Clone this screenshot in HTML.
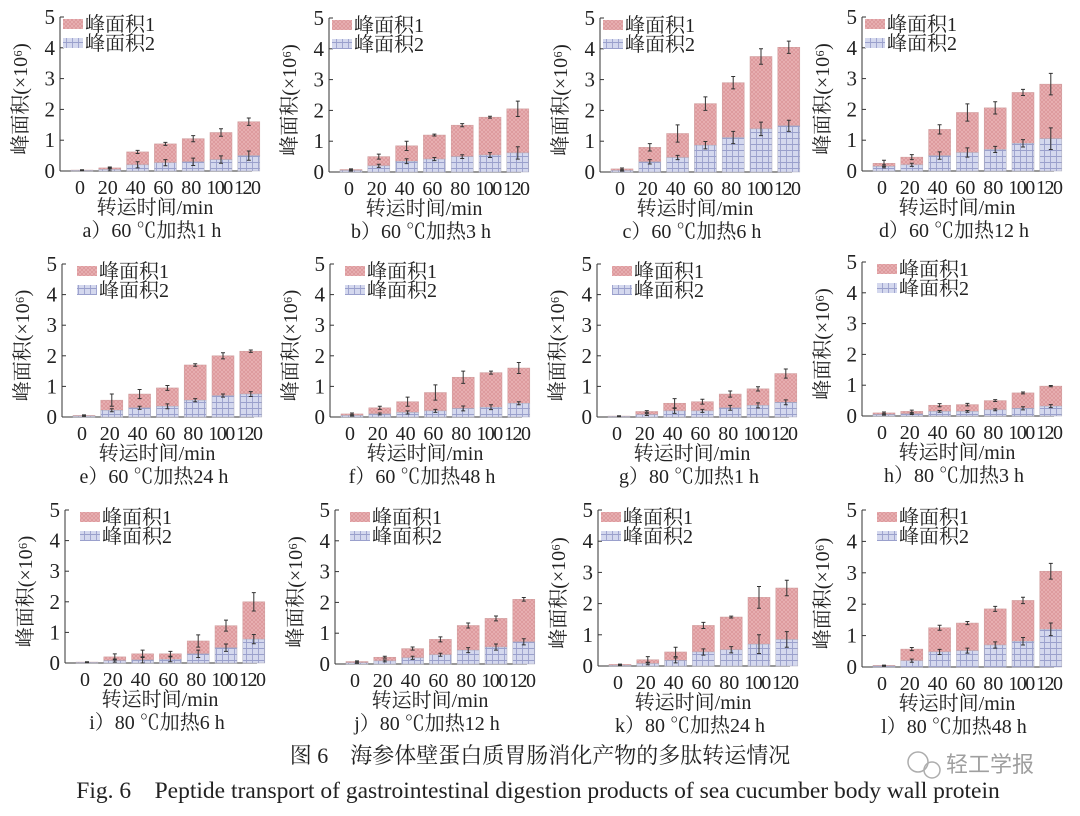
<!DOCTYPE html>
<html><head><meta charset="utf-8">
<style>
body{margin:0;background:#fff;}
svg text{font-family:"Liberation Serif","Noto Serif CJK SC","Noto Sans CJK SC",serif;fill:#222;}
</style></head>
<body>
<svg id="fig" width="1080" height="811" viewBox="0 0 1080 811" xmlns="http://www.w3.org/2000/svg">
<defs>
<pattern id="pinkPat" width="4" height="4" patternUnits="userSpaceOnUse">
<rect width="4" height="4" fill="#e8b0b2"/>
<path d="M0 4L4 0M0 0L4 4" stroke="#d88f93" stroke-width="0.6"/>
</pattern>
<pattern id="bluePat" width="6" height="6" patternUnits="userSpaceOnUse">
<rect width="6" height="6" fill="#d4d8ee"/>
<path d="M0 0.5H6M0.5 0V6" stroke="#9aa0cc" stroke-width="0.9"/>
</pattern>
</defs>
<g id="panels"></g>
<text x="540" y="763" text-anchor="middle" font-size="22">图 6　海参体壁蛋白质胃肠消化产物的多肽转运情况</text>
<text x="538" y="798" text-anchor="middle" font-size="23.5">Fig. 6　Peptide transport of gastrointestinal digestion products of sea cucumber body wall protein</text>
<g opacity="0.8">
<circle cx="918" cy="762" r="10" fill="none" stroke="#999" stroke-width="1.5"/>
<circle cx="932" cy="770" r="8" fill="none" stroke="#999" stroke-width="1.5"/>
<text x="946" y="772" font-size="22" style="fill:#888;font-family:'Noto Sans CJK SC',sans-serif">轻工学报</text>
</g>
</svg>
<script>
const categories = ["0","20","40","60","80","100","120"];
const yTicks = [0,1,2,3,4,5];
const captions = ["a）60 ℃加热1 h","b）60 ℃加热3 h","c）60 ℃加热6 h","d）60 ℃加热12 h","e）60 ℃加热24 h","f）60 ℃加热48 h","g）80 ℃加热1 h","h）80 ℃加热3 h","i）80 ℃加热6 h","j）80 ℃加热12 h","k）80 ℃加热24 h","l）80 ℃加热48 h"];
const totals = [
[0.03,0.1,0.62,0.88,1.05,1.25,1.6],
[0.08,0.5,0.85,1.2,1.52,1.78,2.05],
[0.1,0.8,1.25,2.22,2.9,3.75,4.05],
[0.25,0.45,1.35,1.9,2.05,2.55,2.82],
[0.05,0.55,0.75,0.95,1.7,2.0,2.15],
[0.1,0.3,0.5,0.8,1.3,1.45,1.6],
[0.03,0.18,0.45,0.5,0.75,0.92,1.42],
[0.1,0.15,0.35,0.37,0.5,0.75,0.97],
[0.03,0.2,0.3,0.3,0.72,1.22,2.0],
[0.08,0.22,0.5,0.8,1.25,1.48,2.1],
[0.05,0.2,0.45,1.3,1.57,2.2,2.5],
[0.05,0.57,1.25,1.4,1.85,2.12,3.05]];
const area2 = [
[0.02,0.05,0.2,0.27,0.3,0.37,0.5],
[0.05,0.2,0.35,0.42,0.5,0.55,0.62],
[0.05,0.33,0.47,0.87,1.12,1.4,1.5],
[0.15,0.2,0.5,0.6,0.7,0.9,1.05],
[0.03,0.22,0.3,0.35,0.55,0.7,0.75],
[0.05,0.1,0.15,0.2,0.28,0.32,0.45],
[0.02,0.08,0.2,0.2,0.3,0.38,0.48],
[0.05,0.07,0.15,0.15,0.2,0.25,0.32],
[0.02,0.08,0.1,0.12,0.3,0.5,0.78],
[0.04,0.1,0.2,0.3,0.45,0.55,0.72],
[0.02,0.08,0.18,0.45,0.52,0.7,0.85],
[0.03,0.2,0.48,0.52,0.7,0.82,1.2]];
const errTotal = [
[0.01,0.03,0.05,0.05,0.1,0.12,0.12],
[0.02,0.08,0.15,0.03,0.05,0.03,0.25],
[0.03,0.12,0.28,0.22,0.2,0.25,0.2],
[0.1,0.08,0.15,0.28,0.2,0.1,0.35],
[0.02,0.2,0.15,0.08,0.04,0.1,0.04],
[0.03,0.05,0.15,0.25,0.2,0.05,0.18],
[0.01,0.03,0.15,0.08,0.1,0.07,0.15],
[0.03,0.04,0.05,0.04,0.03,0.03,0.02],
[0.01,0.1,0.12,0.08,0.2,0.18,0.3],
[0.02,0.03,0.05,0.08,0.08,0.08,0.06],
[0.01,0.1,0.15,0.1,0.03,0.35,0.25],
[0.01,0.05,0.08,0.05,0.08,0.1,0.25]];
const errArea2 = [
[0.01,0.05,0.1,0.1,0.12,0.12,0.15],
[0.02,0.05,0.08,0.05,0.06,0.08,0.2],
[0.02,0.07,0.07,0.12,0.2,0.22,0.18],
[0.05,0.05,0.12,0.15,0.1,0.12,0.35],
[0.01,0.05,0.05,0.08,0.05,0.05,0.08],
[0.02,0.03,0.05,0.05,0.08,0.08,0.05],
[0.01,0.03,0.08,0.05,0.08,0.08,0.08],
[0.02,0.02,0.03,0.03,0.03,0.05,0.05],
[0.01,0.05,0.1,0.08,0.12,0.12,0.15],
[0.02,0.03,0.05,0.05,0.08,0.1,0.1],
[0.01,0.04,0.08,0.1,0.1,0.3,0.25],
[0.01,0.05,0.08,0.08,0.1,0.12,0.2]];
const frames = [
[60,171,17],[329,172,18],[600,172,18],[862,171,17],
[62,417,264],[330,417,264],[597,417,264],[862,416,262],
[65,663,510],[335,664,510],[598,666,510],[862,667,510]];
const legendDx = [3,3,3,3,15,15,15,15,15,15,3,15];

const NS="http://www.w3.org/2000/svg";
const root=document.getElementById('panels');
function el(tag,attrs,parent,text){const e=document.createElementNS(NS,tag);for(const k in attrs)e.setAttribute(k,attrs[k]);if(text!==undefined)e.textContent=text;(parent||root).appendChild(e);return e;}

frames.forEach((f,p)=>{
  const [ax,y0,y5]=f;
  const sc=(y0-y5)/5;
  const yS=v=>y0-v*sc;
  const step=27.8, bw=22;
  const xS=i=>ax+11+bw/2+i*step;
  const g=el('g',{});
  
  
  const ya=el('line',{x1:ax,y1:y5,x2:ax,y2:y0,stroke:'#333','stroke-width':1},g);
  
  const xa=el('line',{x1:ax,y1:y0,x2:ax+192,y2:y0,stroke:'#333','stroke-width':1},g);
  
  yTicks.forEach(t=>{
    el('line',{x1:ax,y1:yS(t),x2:ax+4,y2:yS(t),stroke:'#333'},g);
    const tl=el('text',{x:ax-5,y:yS(t)+7,'text-anchor':'end','font-size':21},g,String(t));
    
  });
  categories.forEach((c,i)=>{
    const tl=el('text',{x:xS(i)-2,y:y0+23,'text-anchor':'middle','font-size':20,'letter-spacing':i>=5?-1.5:0},g,c);
    
    const tot=totals[p][i], a2=area2[p][i];
    const b1=el('rect',{x:xS(i)-bw/2,y:yS(tot),width:bw,height:yS(a2)-yS(tot),fill:'url(#pinkPat)',stroke:'#c99','stroke-width':0.5},g);
    
    const b2=el('rect',{x:xS(i)-bw/2,y:yS(a2),width:bw,height:y0-yS(a2),fill:'url(#bluePat)',stroke:'#aab','stroke-width':0.5},g);
    
    [[tot,errTotal[p][i]],[a2,errArea2[p][i]]].forEach(([v,e])=>{
      const eb=el('path',{d:`M${xS(i)} ${yS(v+e)}V${yS(v-e)}M${xS(i)-2} ${yS(v+e)}h4M${xS(i)-2} ${yS(v-e)}h4`,stroke:'#333','stroke-width':1,fill:'none'},g);
      
    });
  });
  const lx=ax+legendDx[p];
  const l1=el('rect',{x:lx,y:y5+2,width:20,height:10,fill:'url(#pinkPat)'},g);
  
  const t1=el('text',{x:lx+22,y:y5+14,'font-size':20},g,'峰面积1');
  
  const l2=el('rect',{x:lx,y:y5+21,width:20,height:10,fill:'url(#bluePat)'},g);
  
  const t2=el('text',{x:lx+22,y:y5+33,'font-size':20},g,'峰面积2');
  
  const cy=(y0+y5)/2+5;
  const yt=el('text',{x:0,y:0,'font-size':20,'text-anchor':'middle',transform:`translate(${ax-33},${cy}) rotate(-90)`},g,'峰面积(×10⁶)');
  
  const xt=el('text',{x:ax+95,y:y0+43,'font-size':20,'text-anchor':'middle'},g,'转运时间/min');
  
  const cp=el('text',{x:ax+92,y:y0+66,'font-size':20,'text-anchor':'middle'},g,captions[p]);
  
});
</script>
</body></html>
